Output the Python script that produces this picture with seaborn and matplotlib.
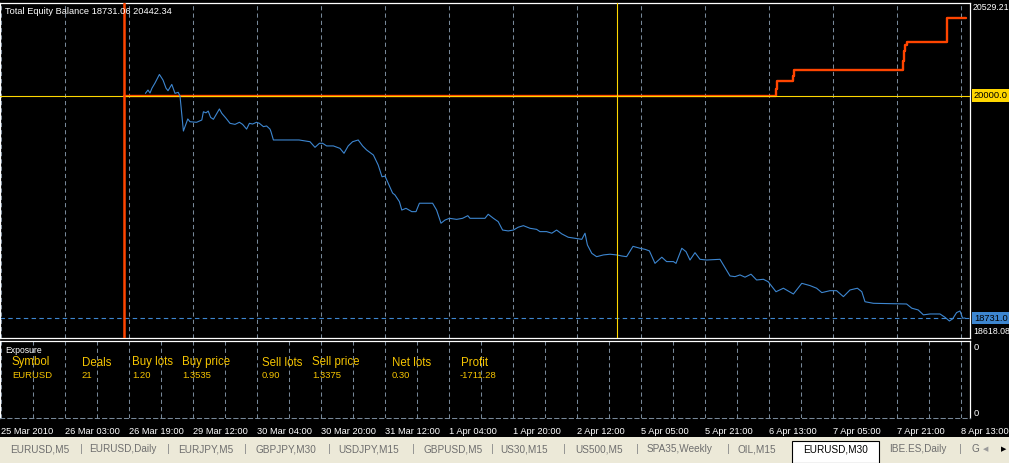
import numpy as np
import matplotlib
matplotlib.use('Agg')
import matplotlib.pyplot as plt
from matplotlib.patches import Rectangle
import matplotlib.transforms as mtransforms
import seaborn as sns

# ── data (x = trading hours since 25 Mar 2010 00:00 on the M30 chart) ──────
equity_hours = [36.1, 36.75, 37.25, 37.75, 38.5, 39.6, 40.5, 41.25, 41.75, 42.7,
                43.5, 44.3, 44.75, 45.6, 46.0, 46.7, 47.25, 48.9, 50.2, 50.6,
                51.25, 51.8, 52.4, 53.1, 54.6, 55.2, 56.25, 57.25, 58.5, 59.6,
                60.4, 61.4, 62.1, 62.9, 63.9, 64.6, 65.6, 66.4, 67.25, 67.5,
                68.1, 74.5, 77.25, 78.5, 79.6, 80.4, 81.4, 83.1, 84.75, 85.75,
                86.8, 87.9, 89.3, 90.4, 91.4, 93.1, 94.3, 95.25, 96.0, 96.8,
                97.9, 98.5, 99.6, 100.2, 101.25, 102.7, 103.75, 104.6, 106.0, 107.9,
                108.9, 110.0, 111.0, 112.1, 113.9, 115.4, 116.7, 117.25, 121.0, 121.8,
                123.1, 124.3, 125.4, 126.8, 128.1, 129.3, 130.6, 132.25, 133.9, 134.75,
                136.4, 137.7, 138.9, 140.2, 141.8, 143.5, 145.2, 146.0, 146.6, 147.7,
                148.9, 150.6, 152.25, 153.9, 155.2, 156.4, 158.0, 159.75, 161.0, 162.1,
                163.5, 165.2, 166.4, 168.1, 168.75, 170.2, 171.25, 172.25, 173.5, 174.75,
                176.4, 179.75, 180.6, 182.25, 183.5, 184.75, 186.0, 187.5, 188.9, 190.6,
                191.8, 193.75, 195.6, 198.1, 200.2, 202.25, 203.9, 205.2, 207.25, 208.9,
                210.6, 212.25, 214.1, 215.2, 216.0, 218.1, 226.4, 227.7, 229.3, 230.6,
                232.25, 234.75, 236.0, 237.1, 237.9, 238.9, 239.75, 240.4, 241.0]
equity_values = [20013, 20032, 20015, 20043, 20072, 20121, 20089, 20043, 20028, 20064,
                 20013, 20019, 19998, 19798, 19823, 19867, 19851, 19848, 19861, 19908,
                 19902, 19912, 19876, 19865, 19924, 19899, 19871, 19842, 19836, 19848,
                 19836, 19809, 19842, 19838, 19848, 19842, 19823, 19827, 19809, 19794,
                 19747, 19747, 19737, 19705, 19728, 19728, 19713, 19713, 19699, 19671,
                 19713, 19737, 19747, 19713, 19690, 19661, 19604, 19537, 19541, 19500,
                 19444, 19433, 19395, 19347, 19357, 19338, 19338, 19386, 19386, 19386,
                 19347, 19272, 19290, 19300, 19294, 19300, 19315, 19300, 19300, 19323,
                 19300, 19281, 19233, 19228, 19233, 19249, 19258, 19243, 19237, 19224,
                 19224, 19215, 19233, 19211, 19192, 19186, 19180, 19215, 19148, 19100,
                 19081, 19091, 19095, 19091, 19085, 19081, 19140, 19129, 19123, 19114,
                 19043, 19078, 19053, 19053, 19043, 19129, 19110, 19062, 19104, 19066,
                 19062, 19066, 19034, 18971, 18967, 18977, 18964, 18981, 18948, 18952,
                 18938, 18881, 18901, 18868, 18929, 18916, 18901, 18876, 18887, 18887,
                 18853, 18891, 18901, 18881, 18824, 18815, 18811, 18787, 18777, 18749,
                 18754, 18754, 18735, 18714, 18726, 18762, 18771, 18730, 18731.06]

balance_hours = [30.75, 193.7, 193.95, 198.1, 198.35, 225.5, 225.8, 226.1, 226.45,
                 228.25, 236.4, 241.2]
balance_values = [20000, 20040, 20083, 20110, 20146, 20200, 20255, 20290, 20304,
                  20308, 20442.34, 20442.34]

time_labels = ['25 Mar 2010', '26 Mar 03:00', '26 Mar 19:00', '29 Mar 12:00',
               '30 Mar 04:00', '30 Mar 20:00', '31 Mar 12:00', '1 Apr 04:00',
               '1 Apr 20:00', '2 Apr 12:00', '5 Apr 05:00', '5 Apr 21:00',
               '6 Apr 13:00', '7 Apr 05:00', '7 Apr 21:00', '8 Apr 13:00']
label_step_hours = 16

scale_top, scale_bottom = 20529.21, 18618.08
deposit_level = 20000.0
test_start_hour = 30.75
cursor_hour = 154.1

exposure_headers = ['Symbol', 'Deals', 'Buy lots', 'Buy price', 'Sell lots',
                    'Sell price', 'Net lots', 'Profit']
exposure_row = ['EURUSD', '21', '1.20', '1.3535', '0.90', '1.3375', '0.30', '-1711.28']

tab_names = ['EURUSD,M5', 'EURUSD,Daily', 'EURJPY,M5', 'GBPJPY,M30', 'USDJPY,M15',
             'GBPUSD,M5', 'US30,M15', 'US500,M5', 'SPA35,Weekly', 'OIL,M15',
             'EURUSD,M30', 'IBE.ES,Daily', 'G']
active_tab = 'EURUSD,M30'

# ── layout (pixels) ───────────────────────────────────────────────────────
W, H = 1009, 463
head_x = [12, 82, 132, 182, 262, 312, 392, 461]
row_x = [12, 81, 132, 182, 262, 312, 392, 460]
tab_x = [10, 89, 178, 256, 338, 423, 500, 575, 647, 738, 803, 889, 971]
sep_x = [81, 168, 245, 329, 413, 492, 564, 637, 728, 960]

BG = '#000000'
EQ = '#3d86d0'
ORANGE = '#ff4500'
GOLD = '#ffd700'
GRID = '#778899'
EXPO = '#f5c400'
TABBG = '#ece9d8'

sns.set_theme(style='dark', rc={
    'figure.facecolor': BG,
    'axes.facecolor': BG,
    'axes.edgecolor': 'white',
    'text.color': 'white',
    'xtick.color': 'white',
    'ytick.color': 'white',
})
plt.rcParams['font.family'] = ['Liberation Sans', 'DejaVu Sans']

DASH = (0, (4, 3))


def frect(x0, y0, x1, y1):
    return [x0 / W, 1 - y1 / H, (x1 - x0) / W, (y1 - y0) / H]


def fpt(x, y):
    return x / W, 1 - y / H


fig = plt.figure(figsize=(W / 100, H / 100), dpi=100, facecolor=BG)
ax = fig.add_axes(frect(0, 2.9, 970, 337.8))
ax2 = fig.add_axes(frect(0, 341, 970, 418), sharex=ax)

hour_min = -0.25
hour_max = 242.25

# ── main window ────────────────────────────────────────────────────────────
ax.set_facecolor(BG)
ax.set_xticks(np.arange(8, hour_max, 8))
ax.grid(axis='x', color=GRID, linestyle=DASH, linewidth=0.75)
ax.grid(axis='y', visible=False)

sns.lineplot(x=balance_hours, y=balance_values, ax=ax, color=ORANGE,
             linewidth=1.7, drawstyle='steps-post', estimator=None, zorder=3)
ax.axhline(deposit_level, color=GOLD, linewidth=0.8, zorder=4)
sns.lineplot(x=equity_hours, y=equity_values, ax=ax, color=EQ,
             linewidth=0.8, estimator=None, zorder=5)
ax.axhline(equity_values[-1], color=EQ, linewidth=0.8, linestyle=DASH, zorder=2)
ax.axvline(test_start_hour, color=ORANGE, linewidth=1.8, zorder=6)
ax.axvline(cursor_hour, color=GOLD, linewidth=0.8, zorder=6)

ax.set_xlim(hour_min, hour_max)
ax.set_ylim(scale_bottom, scale_top)
ax.set_xlabel('')
ax.set_ylabel('')
ax.tick_params(length=0, labelbottom=False, labelleft=False)
for sp in ax.spines.values():
    sp.set_color('white')
    sp.set_linewidth(0.9)

title = f'Total Equity Balance {equity_values[-1]:.2f} {balance_values[-1]:.2f}'
ax.text(5 / 970, 1 - 8.6 / 334.9, title, transform=ax.transAxes,
        fontsize=6.7, color='white', va='center', ha='left', zorder=7)

# price scale on the right
yblend = mtransforms.blended_transform_factory(ax.transAxes, ax.transData)
ax.annotate(f'{scale_top:.2f}', xy=(1, scale_top), xycoords=yblend,
            xytext=(3, -5), textcoords='offset pixels', fontsize=6.3,
            color='white', va='center', ha='left', annotation_clip=False)
ax.annotate(f'{scale_bottom:.2f}', xy=(1, scale_bottom), xycoords=yblend,
            xytext=(3, 6), textcoords='offset pixels', fontsize=6.3,
            color='white', va='center', ha='left', annotation_clip=False)
ax.annotate(f'{deposit_level:.1f}', xy=(1, deposit_level), xycoords=yblend,
            xytext=(4, 0), textcoords='offset pixels', fontsize=6.7,
            color='black', va='center', ha='left', annotation_clip=False,
            bbox=dict(boxstyle='square,pad=0.2', fc=GOLD, ec='none'))
eq_last = np.floor(equity_values[-1] * 10) / 10
ax.annotate(f'{eq_last:.1f}', xy=(1, equity_values[-1]), xycoords=yblend,
            xytext=(4, 0), textcoords='offset pixels', fontsize=6.7,
            color='black', va='center', ha='left', annotation_clip=False,
            bbox=dict(boxstyle='square,pad=0.2', fc=EQ, ec='none'))

# ── exposure sub-window ────────────────────────────────────────────────────
ax2.set_facecolor(BG)
ax2.set_ylim(0, 1)
ax2.set_yticks([])
major = np.arange(len(time_labels)) * label_step_hours
ax2.set_xticks(major)
ax2.set_xticks(np.arange(8, hour_max, 16), minor=True)
ax2.set_xticklabels(time_labels)
ax2.grid(axis='x', which='both', color=GRID, linestyle=DASH, linewidth=0.75)
ax2.grid(axis='y', visible=False)
ax2.tick_params(axis='x', which='major', length=5, width=0.9, color='white',
                labelsize=6.7, labelcolor='white', pad=1.5, direction='out')
ax2.tick_params(axis='x', which='minor', length=0)
for lbl in ax2.get_xticklabels():
    lbl.set_ha('left')
ax2.set_xlim(hour_min, hour_max)
for side in ['top', 'left', 'right']:
    ax2.spines[side].set_color('white')
    ax2.spines[side].set_linewidth(0.9)
ax2.spines['bottom'].set_color(GRID)
ax2.spines['bottom'].set_linestyle(DASH)
ax2.spines['bottom'].set_linewidth(0.75)

fig.text(*fpt(5, 350.5), 'Exposure', fontsize=6.2, color='white', va='center')
for x, h in zip(head_x, exposure_headers):
    fig.text(*fpt(x, 362.5), h, fontsize=8.3, color=EXPO, va='center')
for x, v in zip(row_x, exposure_row):
    fig.text(*fpt(x, 376), v, fontsize=6.8, color=EXPO, va='center')
fig.text(*fpt(974, 347), '0', fontsize=6.7, color='white', va='center')
fig.text(*fpt(974, 413), '0', fontsize=6.7, color='white', va='center')

# ── terminal tab bar ───────────────────────────────────────────────────────
fig.patches.append(Rectangle(fpt(0, H), 1, 26 / H, transform=fig.transFigure,
                             fc=TABBG, ec='none', zorder=0))
fig.patches.append(Rectangle(fpt(792, H), 87 / W, 22 / H, transform=fig.transFigure,
                             fc='white', ec='black', lw=0.8, zorder=1))
for x, name in zip(tab_x, tab_names):
    fig.text(*fpt(x, 449.5), name, fontsize=7.2,
             color='black' if name == active_tab else '#6e6e6e', va='center')
for x in sep_x:
    fig.text(*fpt(x, 449.5), '|', fontsize=8, color='#8c8c8c', va='center', ha='center')
fig.text(*fpt(983, 449.5), '◀', fontsize=5, color='#9a9a9a', va='center',
         family='DejaVu Sans')
fig.text(*fpt(1001, 449.5), '▶', fontsize=5, color='black', va='center',
         family='DejaVu Sans')

fig.savefig('out.png', dpi=100, facecolor=BG)
